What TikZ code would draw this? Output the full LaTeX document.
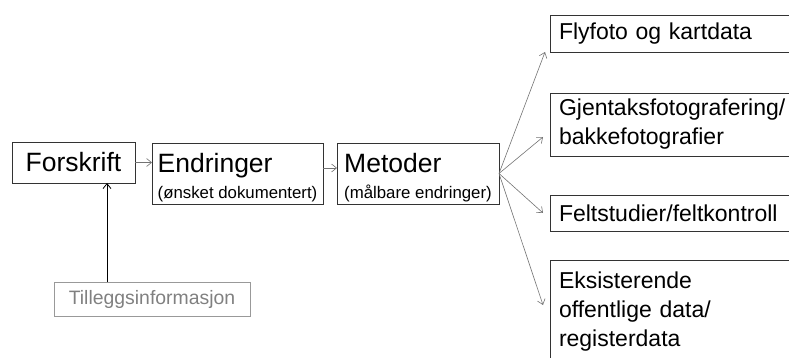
\documentclass[tikz,border=0pt]{standalone}
\usepackage{fontspec}
\setmainfont{Liberation Sans}
\usetikzlibrary{arrows.meta}

\tikzset{
  box/.style={draw=black!80, line width=0.9pt, inner sep=0pt, outer sep=0pt, anchor=north west, align=center},
  boxbig/.style={box, align=left, font=\fontsize{26.5}{30}\selectfont},
  boxright/.style={draw=black!80, line width=0.9pt, anchor=north west, inner xsep=9pt, inner ysep=0pt, outer sep=0pt, text width=240pt, align=left, font=\fontsize{23}{29}\selectfont},
  fan/.style={draw=black!55, line width=0.6pt, -{Straight Barb[length=5pt,width=8pt]}},
  feed/.style={draw=black, line width=0.8pt, -{Straight Barb[length=5pt,width=8pt]}},
}
\newcommand{\undertekst}[1]{{\fontsize{16.8}{19}\selectfont #1}}
\newcommand{\topluft}{\rule{0pt}{28pt}}

\begin{document}
\begin{tikzpicture}[x=1pt,y=-1pt]
\useasboundingbox (0,0) rectangle (789,358);

\node[boxbig, minimum width=123pt, minimum height=41pt] (forskrift) at (12,142) {Forskrift};
\node[boxbig, minimum width=171pt, minimum height=61pt] (endringer) at (152,143) {\topluft Endringer\\[-4pt]\undertekst{(ønsket dokumentert)}};
\node[boxbig, minimum width=162pt, minimum height=61pt] (metoder) at (337,143) {\topluft Metoder\\[-4pt]\undertekst{(målbare endringer)}};
\node[box, draw=black!40, text=black!50, font=\fontsize{19.4}{24}\selectfont, minimum width=196pt, minimum height=34pt] (tillegg) at (54,282) {Tilleggsinformasjon};

% metodene
\node[boxright, minimum height=37pt]  (flyfoto) at (550,15)  {Flyfoto og kartdata};
\node[boxright, minimum height=63pt]  (gjentak) at (550,93)  {Gjentaksfotografering/\\bakkefotografier};
\node[boxright, minimum height=36pt]  (felt)    at (550,195) {Feltstudier/feltkontroll};
\node[boxright, minimum height=104pt] (eksist)  at (550,260) {Eksisterende\\offentlige data/\\registerdata};

\draw[fan] (forskrift.east) -- (forskrift.east -| endringer.west);
\draw[fan] ([yshift=5.5pt]endringer.east) -- ([yshift=5.5pt]endringer.east -| metoder.west);

\draw[fan] (metoder.east) -- ([shift={(-5,0)}]flyfoto.south west);
\draw[fan] (metoder.east) -- ([shift={(-7,-19)}]gjentak.south west);
\draw[fan] (metoder.east) -- ([xshift=-7pt]felt.west);
\draw[fan] (metoder.east) -- ([shift={(-7,-7)}]eksist.west);

\draw[feed] ([xshift=-45pt]tillegg.north) -- ([xshift=-45pt]tillegg.north |- forskrift.south);
\end{tikzpicture}
\end{document}
